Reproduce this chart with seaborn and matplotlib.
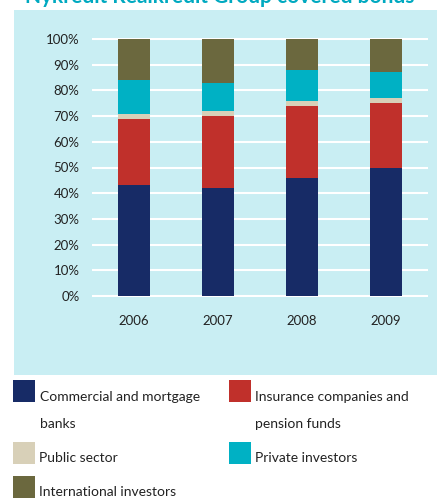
import numpy as np
import pandas as pd
import matplotlib
matplotlib.use('Agg')
import matplotlib.pyplot as plt
from matplotlib.patches import Rectangle
import seaborn as sns

# Data (share of holdings, %)
YEARS = ['2006', '2007', '2008', '2009']
COMMERCIAL = [43, 42, 46, 50]
INSURANCE = [26, 28, 28, 25]
PUBLIC = [2, 2, 2, 2]
PRIVATE = [13, 11, 12, 10]
INTERNATIONAL = [16, 17, 12, 13]

SERIES = ['Commercial and mortgage\nbanks', 'Insurance companies and\npension funds',
          'Public sector', 'Private investors', 'International investors']
COLORS = ['#172b66', '#c0302b', '#d8d0b8', '#00b1c4', '#6b683e']
TITLE = 'Nykredit Realkredit Group covered bonds'

PANEL = '#c9eef3'
FONT = 'Lato'

df = pd.DataFrame({'year': YEARS, SERIES[0]: COMMERCIAL, SERIES[1]: INSURANCE,
                   SERIES[2]: PUBLIC, SERIES[3]: PRIVATE, SERIES[4]: INTERNATIONAL})

sns.set_style('white')
plt.rcParams['font.family'] = [FONT, 'DejaVu Sans']

W, H = 437, 500
fig = plt.figure(figsize=(W / 100, H / 100), dpi=100, facecolor='white')

# background layer in pixel coordinates (panel, title, legend)
bg = fig.add_axes([0, 0, 1, 1], zorder=0)
bg.set_xlim(0, W)
bg.set_ylim(H, 0)
bg.axis('off')
bg.add_patch(Rectangle((14, 10), W - 14, 365, facecolor=PANEL, edgecolor='none'))
bg.text(220, -3, TITLE, ha='center', va='center', fontsize=15, fontweight='bold',
        color='#00a9c0', clip_on=False)

# main chart
ax = fig.add_axes([92 / W, (H - 297.3) / H, 336 / W, 259.6 / H], zorder=1)
ax.set_facecolor('none')
bottom = np.zeros(len(YEARS))
for name, color in zip(SERIES, COLORS):
    sns.barplot(data=df, x='year', y=name, color=color, width=0.39, bottom=bottom,
                ax=ax, zorder=3, linewidth=0, saturation=1)
    bottom = bottom + df[name].to_numpy()

ax.set_xlim(-0.5, 3.5)
ax.set_ylim(-0.5, 100.5)
ax.set_yticks(range(0, 101, 10))
ax.set_yticklabels([f'{v}%' for v in range(0, 101, 10)])
ax.grid(axis='y', color='white', linewidth=1.5)
ax.set_axisbelow(True)
ax.set_xlabel('')
ax.set_ylabel('')
ax.tick_params(axis='y', length=0, pad=9, labelsize=9.5, labelcolor='#222222')
ax.tick_params(axis='x', length=0, pad=13, labelsize=9.5, labelcolor='#222222')
sns.despine(ax=ax, left=True, bottom=True)

# legend drawn as key boxes with wrapped labels
legend_items = [
    (13, 380, 40, 397),
    (229, 380, 255, 397),
    (13, 442, 39, 458),
    (229, 442, 255, 458),
    (13, 476, 39, 492),
]
for (bx, by, tx, ty), label, color in zip(legend_items, SERIES, COLORS):
    bg.add_patch(Rectangle((bx, by), 22, 21.5, facecolor=color, edgecolor='none'))
    lines = label.split('\n')
    for i, line in enumerate(lines):
        bg.text(tx, ty + i * 27, line, ha='left', va='center', fontsize=10,
                color='#222222')

fig.savefig('out.png', dpi=100, facecolor='white')
